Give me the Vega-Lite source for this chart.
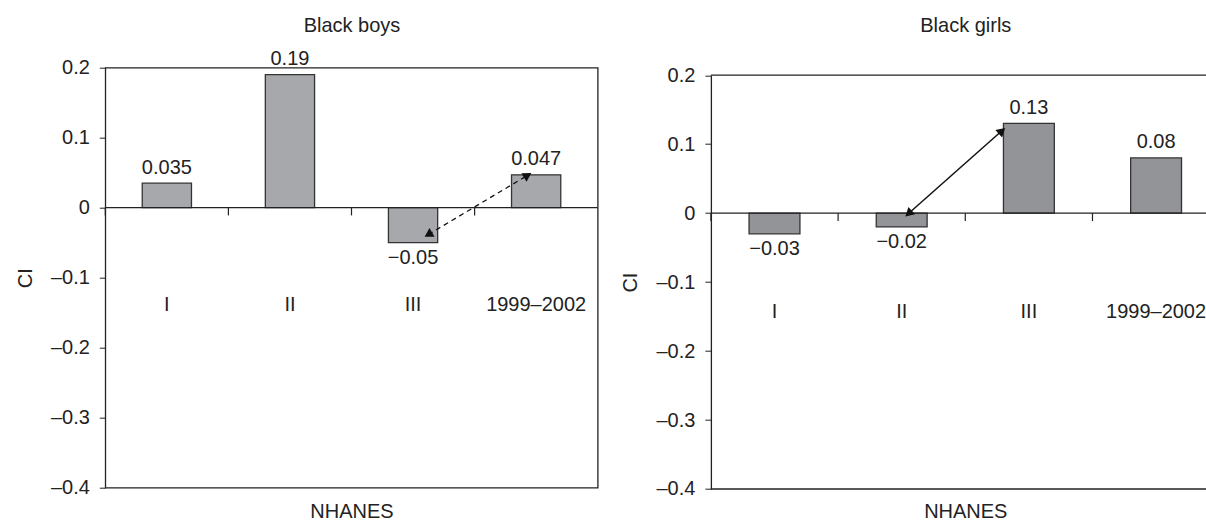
{
  "$schema": "https://vega.github.io/schema/vega-lite/v6.json",
  "padding": {"left": 14.3, "top": 14.7, "right": 0, "bottom": 0},
  "spacing": 112.6,
  "bounds": "flush",
  "config": {
    "font": "Liberation Sans",
    "view": {"stroke": "#222", "strokeWidth": 1.3},
    "axis": {"labelFont": "Liberation Sans", "titleFont": "Liberation Sans", "labelFontSize": 20, "titleFontSize": 20, "titleFontWeight": "normal", "labelColor": "#222", "titleColor": "#222", "tickColor": "#222", "domainColor": "#222", "domainWidth": 1.3, "grid": false},
    "text": {"font": "Liberation Sans", "fontSize": 20, "color": "#222"}
  },
  "datasets": {
    "boys": [
      {"survey": "I", "CI": 0.035},
      {"survey": "II", "CI": 0.19},
      {"survey": "III", "CI": -0.05},
      {"survey": "1999–2002", "CI": 0.047}
    ],
    "girls": [
      {"survey": "I", "CI": -0.03},
      {"survey": "II", "CI": -0.02},
      {"survey": "III", "CI": 0.13},
      {"survey": "1999–2002", "CI": 0.08}
    ],
    "boysArrow": [
      {"pos": 2.624, "CI": -0.0384, "end": "tail"},
      {"pos": 3.431, "CI": 0.0463, "end": "head"}
    ],
    "girlsArrow": [
      {"pos": 1.554, "CI": -0.0006, "end": "tail"},
      {"pos": 2.288, "CI": 0.1194, "end": "head"}
    ]
  },
  "hconcat": [
    {
      "width": 492.4,
      "height": 420,
      "resolve": {"scale": {"x": "independent"}},
      "layer": [
        {
          "data": {"name": "boys"},
          "layer": [
            {
              "mark": {"type": "bar", "width": {"band": 0.4}, "fill": "#a7a8ab", "stroke": "#333", "strokeWidth": 1.3},
              "encoding": {
                "x": {"field": "survey", "type": "nominal", "scale": {"domain": ["I", "II", "III", "1999–2002"], "paddingInner": 0, "paddingOuter": 0}, "axis": {"labels": false, "ticks": false, "domain": false, "title": "NHANES", "titlePadding": 14}},
                "y": {"field": "CI", "type": "quantitative", "scale": {"domain": [-0.4, 0.2], "nice": false, "zero": false}, "axis": {"values": [-0.4, -0.3, -0.2, -0.1, 0, 0.1, 0.2], "domain": false, "tickSize": 6, "labelPadding": 10, "title": "CI", "titlePadding": 15, "labelExpr": "datum.value == 0 ? '0' : (datum.value < 0 ? '–' + format(-datum.value, '.1f') : format(datum.value, '.1f'))"}}
              }
            },
            {
              "data": {"values": [{}]},
              "mark": {"type": "rule", "color": "#222", "strokeWidth": 1.3},
              "encoding": {"y": {"datum": 0}}
            },
            {
              "mark": {"type": "rule", "color": "#222", "strokeWidth": 1.2},
              "encoding": {
                "x": {"field": "survey", "type": "nominal", "bandPosition": 0, "scale": {"domain": ["I", "II", "III", "1999–2002"], "paddingInner": 0, "paddingOuter": 0}},
                "y": {"datum": 0},
                "y2": {"datum": -0.011}
              }
            },
            {
              "transform": [{"filter": "datum.CI >= 0"}],
              "mark": {"type": "text", "baseline": "alphabetic", "dy": -9.5},
              "encoding": {
                "x": {"field": "survey", "type": "nominal", "scale": {"domain": ["I", "II", "III", "1999–2002"], "paddingInner": 0, "paddingOuter": 0}},
                "y": {"field": "CI", "type": "quantitative"},
                "text": {"field": "CI", "type": "quantitative", "format": "~g"}
              }
            },
            {
              "transform": [{"filter": "datum.CI < 0"}],
              "mark": {"type": "text", "baseline": "top", "dy": 5},
              "encoding": {
                "x": {"field": "survey", "type": "nominal", "scale": {"domain": ["I", "II", "III", "1999–2002"], "paddingInner": 0, "paddingOuter": 0}},
                "y": {"field": "CI", "type": "quantitative"},
                "text": {"field": "CI", "type": "quantitative", "format": "~g"}
              }
            },
            {
              "mark": {"type": "text", "baseline": "alphabetic"},
              "encoding": {
                "x": {"field": "survey", "type": "nominal", "scale": {"domain": ["I", "II", "III", "1999–2002"], "paddingInner": 0, "paddingOuter": 0}},
                "y": {"datum": -0.148},
                "text": {"field": "survey", "type": "nominal"}
              }
            }
          ]
        },
        {
          "data": {"name": "boysArrow"},
          "layer": [
            {
              "mark": {"type": "line", "stroke": "#111", "strokeWidth": 1.3, "strokeDash": [5, 4]},
              "encoding": {
                "x": {"field": "pos", "type": "quantitative", "scale": {"domain": [0, 4], "nice": false, "zero": false}, "axis": {"orient": "top", "title": "Black boys", "labels": false, "ticks": false, "domain": false, "titlePadding": 36.3, "titleBaseline": "alphabetic"}},
                "y": {"field": "CI", "type": "quantitative"}
              }
            },
            {
              "transform": [{"filter": "datum.end == 'head'"}],
              "mark": {"type": "point", "shape": "triangle-up", "filled": true, "size": 100, "color": "#111", "opacity": 1, "angle": 59},
              "encoding": {
                "x": {"field": "pos", "type": "quantitative"},
                "y": {"field": "CI", "type": "quantitative"}
              }
            },
            {
              "transform": [{"filter": "datum.end == 'tail'"}],
              "mark": {"type": "point", "shape": "triangle-up", "filled": true, "size": 100, "color": "#111", "opacity": 1, "angle": 239},
              "encoding": {
                "x": {"field": "pos", "type": "quantitative"},
                "y": {"field": "CI", "type": "quantitative"}
              }
            }
          ]
        }
      ]
    },
    {
      "width": 496.7,
      "height": 421.3,
      "view": {"stroke": null},
      "resolve": {"scale": {"x": "independent"}},
      "layer": [
        {
          "data": {"name": "girls"},
          "layer": [
            {
              "mark": {"type": "bar", "width": {"band": 0.4}, "fill": "#939498", "stroke": "#333", "strokeWidth": 1.3},
              "encoding": {
                "x": {"field": "survey", "type": "nominal", "scale": {"domain": ["I", "II", "III", "1999–2002"], "paddingInner": 0, "paddingOuter": 0, "range": [0, 508.8]}, "axis": {"labels": false, "ticks": false, "domain": false, "title": "NHANES", "titlePadding": 13}},
                "y": {"field": "CI", "type": "quantitative", "scale": {"domain": [-0.4, 0.2], "nice": false, "zero": false, "range": [421.3, 7.5]}, "axis": {"values": [-0.4, -0.3, -0.2, -0.1, 0, 0.1, 0.2], "domain": true, "tickSize": 6, "labelPadding": 10, "title": "CI", "titlePadding": 15, "labelExpr": "datum.value == 0 ? '0' : (datum.value < 0 ? '–' + format(-datum.value, '.1f') : format(datum.value, '.1f'))"}}
              }
            },
            {
              "data": {"values": [{}]},
              "mark": {"type": "rule", "color": "#222", "strokeWidth": 1.3},
              "encoding": {"y": {"datum": 0}}
            },
            {
              "data": {"values": [{}]},
              "mark": {"type": "rule", "color": "#222", "strokeWidth": 1.3},
              "encoding": {"y": {"datum": 0.2}}
            },
            {
              "data": {"values": [{}]},
              "mark": {"type": "rule", "color": "#222", "strokeWidth": 1.3},
              "encoding": {"y": {"datum": -0.4}}
            },
            {
              "mark": {"type": "rule", "color": "#222", "strokeWidth": 1.2},
              "encoding": {
                "x": {"field": "survey", "type": "nominal", "bandPosition": 0, "scale": {"domain": ["I", "II", "III", "1999–2002"], "paddingInner": 0, "paddingOuter": 0, "range": [0, 508.8]}},
                "y": {"datum": 0},
                "y2": {"datum": -0.0115}
              }
            },
            {
              "transform": [{"filter": "datum.CI >= 0"}],
              "mark": {"type": "text", "baseline": "alphabetic", "dy": -9.5},
              "encoding": {
                "x": {"field": "survey", "type": "nominal", "scale": {"domain": ["I", "II", "III", "1999–2002"], "paddingInner": 0, "paddingOuter": 0, "range": [0, 508.8]}},
                "y": {"field": "CI", "type": "quantitative"},
                "text": {"field": "CI", "type": "quantitative", "format": "~g"}
              }
            },
            {
              "transform": [{"filter": "datum.CI < 0"}],
              "mark": {"type": "text", "baseline": "top", "dy": 5},
              "encoding": {
                "x": {"field": "survey", "type": "nominal", "scale": {"domain": ["I", "II", "III", "1999–2002"], "paddingInner": 0, "paddingOuter": 0, "range": [0, 508.8]}},
                "y": {"field": "CI", "type": "quantitative"},
                "text": {"field": "CI", "type": "quantitative", "format": "~g"}
              }
            },
            {
              "mark": {"type": "text", "baseline": "alphabetic", "clip": true},
              "encoding": {
                "x": {"field": "survey", "type": "nominal", "scale": {"domain": ["I", "II", "III", "1999–2002"], "paddingInner": 0, "paddingOuter": 0, "range": [0, 508.8]}},
                "y": {"datum": -0.1515},
                "text": {"field": "survey", "type": "nominal"}
              }
            }
          ]
        },
        {
          "data": {"name": "girlsArrow"},
          "layer": [
            {
              "mark": {"type": "line", "stroke": "#111", "strokeWidth": 1.5},
              "encoding": {
                "x": {"field": "pos", "type": "quantitative", "scale": {"domain": [0, 4], "nice": false, "zero": false, "range": [0, 508.8]}, "axis": {"orient": "top", "title": "Black girls", "labels": false, "ticks": false, "domain": false, "titlePadding": 36.3, "titleBaseline": "alphabetic"}},
                "y": {"field": "CI", "type": "quantitative"}
              }
            },
            {
              "transform": [{"filter": "datum.end == 'head'"}],
              "mark": {"type": "point", "shape": "triangle-up", "filled": true, "size": 100, "color": "#111", "opacity": 1, "angle": 48},
              "encoding": {
                "x": {"field": "pos", "type": "quantitative"},
                "y": {"field": "CI", "type": "quantitative"}
              }
            },
            {
              "transform": [{"filter": "datum.end == 'tail'"}],
              "mark": {"type": "point", "shape": "triangle-up", "filled": true, "size": 100, "color": "#111", "opacity": 1, "angle": 228},
              "encoding": {
                "x": {"field": "pos", "type": "quantitative"},
                "y": {"field": "CI", "type": "quantitative"}
              }
            }
          ]
        }
      ]
    }
  ]
}
